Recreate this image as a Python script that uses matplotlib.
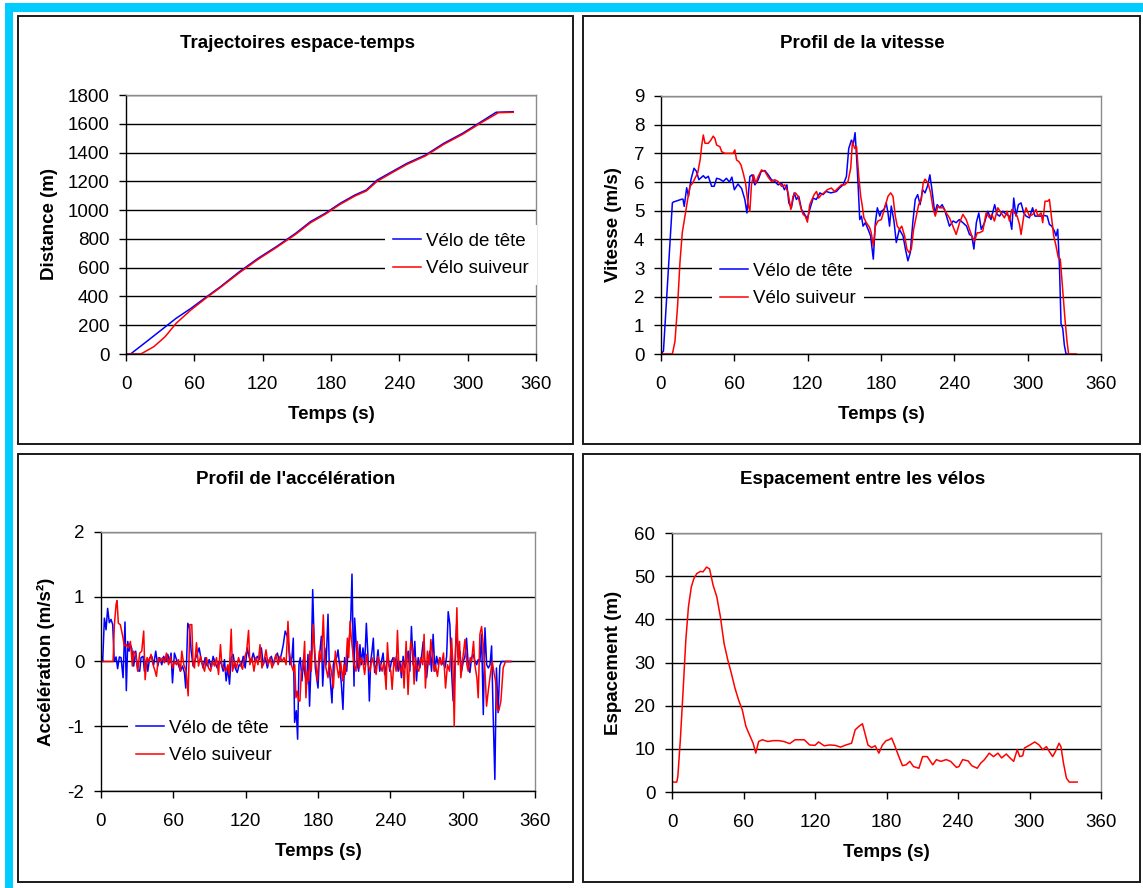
import matplotlib
matplotlib.use("Agg")
import matplotlib.pyplot as plt
from matplotlib.patches import Rectangle

plt.rcParams['font.family'] = ['Liberation Sans', 'DejaVu Sans']
plt.rcParams['axes.unicode_minus'] = False

BLUE = '#0000FF'
RED = '#FF0000'
LABEL_HEAD = 'Vélo de tête'
LABEL_FOLLOW = 'Vélo suiveur'

# ---- space-time trajectories (s, m)
dist_t_head = [0, 4, 18, 31, 44, 57, 65, 83, 99.6, 116, 132, 149, 162, 175, 188, 201, 211,
               220.5, 233.6, 246.7, 263, 279, 295.6, 312, 325, 340]
dist_head = [0, 0, 86, 167, 248, 317, 364, 468, 572, 665, 746, 839, 920, 978, 1047, 1105, 1140,
             1209, 1267, 1325, 1383, 1464, 1534, 1615, 1680, 1684]
dist_t_follow = [0, 13, 24.5, 34.3, 44, 57, 70, 83, 99.6, 116, 132, 149, 162, 175, 188, 201, 211,
                 220.5, 233.6, 246.7, 263, 279, 295.6, 312, 327, 340]
dist_follow = [0, 0, 51, 120, 213, 306, 387, 463, 565, 658, 740, 832, 912, 972, 1040, 1098, 1133,
               1200, 1260, 1318, 1377, 1457, 1527, 1608, 1677, 1680]

# ---- speed profile (s, m/s)
speed_t_head = [0, 2, 9.3, 10, 17, 18, 19, 21, 22.5, 24.5, 27, 29, 31, 34.6, 36.5, 38.7, 41.4, 43.5,
                45.5, 48, 51, 53.5, 56, 58, 60, 63, 66, 68.6, 70.3, 72.7, 74.6, 76.8, 79.5, 82, 85,
                87.7, 90.4, 93, 95.8, 98.6, 101, 103, 104.6, 106.7, 109, 110.8, 112.7, 115, 117.6,
                119.8, 121.7, 124.5, 127, 130, 132.6, 135, 139, 143.5, 146, 149, 151.7, 153.6, 155.8,
                157.4, 158.8, 160, 161.2, 162.6, 164, 165.3, 167.2, 169.4, 171.5, 173.7, 175.4, 177,
                179, 180.3, 182.4, 184.3, 185.7, 187, 188.4, 190.6, 192.5, 195, 198, 200, 202, 204,
                206, 208, 210, 212, 214, 216, 218, 220, 221.7, 224, 226, 228, 230, 232, 234, 236,
                239, 241.5, 244, 247, 250, 252.4, 254.3, 256, 258, 260, 262, 264.7, 267.4, 270, 273,
                275, 277, 279.6, 282.4, 285, 287, 288.6, 290.5, 292.4, 294.6, 296.8, 298.7, 301.4,
                304, 306, 308, 311, 313.7, 316, 317.8, 319.7, 321.9, 323.2, 324.6, 326, 327.3, 328.7,
                330, 331.4, 334]
speed_head = [0, 0.1, 5.27, 5.3, 5.4, 5.4, 5.15, 5.8, 5.5, 6.08, 6.48, 6.37, 6.08, 6.22, 6.13, 6.2,
              5.85, 5.85, 6.13, 6.1, 6.02, 6.13, 6.0, 6.17, 5.73, 5.93, 5.77, 5.39, 4.92, 6.19, 6.25,
              5.9, 6.08, 6.37, 6.4, 6.25, 6.08, 6.02, 5.9, 5.96, 5.73, 5.9, 5.27, 5.1, 5.62, 5.39,
              5.5, 5.04, 4.87, 4.72, 5.04, 5.44, 5.39, 5.62, 5.56, 5.67, 5.62, 5.67, 5.79, 5.9, 6.19,
              7.17, 7.46, 7.35, 7.72, 6.89, 5.96, 4.69, 4.81, 4.46, 4.58, 4.35, 4.12, 3.31, 4.58,
              5.1, 4.81, 4.98, 5.04, 5.27, 4.92, 4.46, 5.16, 4.64, 3.89, 4.35, 4.12, 3.66, 3.25,
              3.54, 4.58, 5.39, 5.56, 5.21, 5.73, 5.62, 5.85, 6.25, 5.73, 4.92, 5.21, 5.1, 5.21,
              5.04, 4.75, 4.46, 4.64, 4.58, 4.69, 4.58, 4.46, 4.17, 4.12, 3.66, 4.58, 4.92, 4.35,
              4.58, 4.98, 4.69, 5.21, 4.87, 4.81, 4.98, 4.87, 4.81, 4.35, 5.44, 4.81, 5.21, 5.27,
              4.92, 4.81, 4.75, 5.1, 4.81, 4.81, 4.81, 4.83, 4.81, 4.52, 4.46, 4.29, 4.12, 4.35,
              3.08, 1.06, 0.89, 0.31, 0, 0]
speed_t_follow = [0, 9.3, 11.4, 13.6, 15.5, 17.4, 19.6, 21.8, 23.7, 25.9, 27.8, 30, 32, 33.2, 34.6,
                  36, 38.7, 40.8, 42.7, 44.1, 45.5, 48.2, 49.6, 52.3, 55, 59, 60.4, 61.8, 63.7, 65.4,
                  67.3, 69.2, 71.3, 72.7, 74, 75.7, 77.6, 79.5, 82.2, 85, 87.7, 90.4, 93, 95.8, 98.6,
                  101.3, 104, 106.2, 108, 110, 112.2, 114.4, 116.3, 118, 119.8, 121.7, 123.6, 125.3,
                  127.2, 129, 131.2, 133.4, 136, 139.4, 142, 144.9, 147.6, 150.3, 153, 155.2, 156.6,
                  158.5, 160, 161.8, 163.4, 164.7, 166, 168, 170.7, 172, 173.7, 175.4, 177.5, 180.3,
                  183, 185.7, 187.9, 189.8, 191.7, 193.3, 195.2, 197, 199.3, 201.2, 202.9, 204.8,
                  206.7, 208.9, 210.8, 213, 214.5, 216, 218.5, 220.6, 222.5, 224.4, 226.6, 228.7,
                  231, 233.4, 236, 238.8, 241.5, 244.3, 247, 249.7, 252.4, 254.3, 256.5, 258.7,
                  260.6, 263.3, 266, 268.8, 270.7, 272.8, 275.6, 278.3, 281, 283.2, 285.1, 287,
                  289.2, 291.4, 293.3, 294.6, 296.8, 298.7, 301.4, 304.2, 306.9, 308.3, 311, 312.3,
                  314.2, 316.4, 317.8, 319.7, 321.3, 323.2, 325, 326.7, 328.6, 330.5, 332.2, 333.5,
                  339.6]
speed_follow = [0, 0, 0.43, 1.7, 3.19, 4.23, 4.81, 5.39, 5.85, 5.96, 6.13, 6.31, 6.77, 7.23, 7.64,
                7.35, 7.35, 7.46, 7.6, 7.52, 7.29, 7.23, 7.06, 7.0, 7.0, 7.0, 7.12, 6.77, 6.71, 6.6,
                6.31, 5.96, 5.21, 4.98, 5.9, 6.25, 5.96, 6.19, 6.42, 6.37, 6.17, 6.02, 6.08, 6.02,
                5.85, 5.9, 5.62, 5.04, 5.5, 5.62, 5.5, 5.1, 4.87, 4.81, 4.6, 5.21, 5.39, 5.56, 5.67,
                5.44, 5.56, 5.62, 5.73, 5.79, 5.67, 5.79, 5.9, 5.9, 6.02, 6.48, 7.4, 7.17, 7.23,
                6.19, 5.5, 5.16, 4.75, 4.58, 4.41, 4.23, 3.77, 4.46, 4.64, 4.69, 5.1, 5.5, 5.62,
                5.5, 4.81, 4.46, 4.35, 4.46, 4.12, 3.66, 3.54, 3.66, 4.35, 4.81, 5.21, 5.39, 5.96,
                6.1, 5.96, 5.62, 5.1, 4.81, 5.16, 5.1, 5.1, 4.92, 4.75, 4.46, 4.17, 4.58, 4.87,
                4.69, 4.35, 4.12, 3.94, 4.23, 4.23, 4.29, 4.92, 4.75, 4.87, 4.64, 5.1, 4.92, 4.75,
                4.98, 4.64, 5.04, 4.92, 4.81, 4.52, 4.17, 4.81, 5.1, 4.81, 4.87, 5.04, 4.81, 4.92,
                4.58, 5.33, 5.33, 5.39, 4.69, 4.12, 3.77, 3.37, 3.31, 2.27, 1.23, 0.43, 0, 0]

# ---- acceleration profile (s, m/s2)
acc_t_head = [0, 0.5, 1.4, 2.8, 4.2, 5.5, 6.9, 8.3, 9.7, 11, 12.5, 13.8, 15.2, 16.6, 18.3, 19.9, 21,
              22.2, 23.3, 24.4, 25.5, 27.1, 28.8, 30.5, 32.1, 33.2, 34.9, 36, 37.7, 38.8, 40.4, 42.1,
              43.7, 45.4, 47.1, 48.7, 50.4, 52, 53.7, 55.4, 57, 58.1, 59.3, 60.9, 62.6, 64.2, 65.9,
              67.6, 69.2, 70.3, 72, 73.4, 74.8, 76.4, 78.1, 79.7, 81.4, 83.1, 84.7, 86.4, 88.1, 89.7,
              91.4, 93, 94.7, 96.4, 98, 99.7, 101.3, 102.4, 103.8, 105.2, 106.6, 108, 109.6, 111.3,
              113, 114.6, 116.3, 118, 119.6, 121.3, 123, 124.6, 126.3, 128, 129.6, 131.3, 133, 134.6,
              136.3, 138, 139.6, 141.3, 143, 144.6, 146.3, 148, 149.6, 151.2, 152.8, 154.5, 155.6,
              156.7, 158.4, 159.5, 160.6, 162, 163.1, 164.2, 165.3, 166.7, 167.8, 168.9, 170.6,
              171.7, 173, 174.5, 175.6, 176.7, 177.8, 178.9, 180, 181.1, 182.8, 183.9, 185.6, 186.7,
              188.3, 189.4, 190.5, 191.6, 192.7, 193.8, 195.5, 196.6, 198.3, 199.4, 200.7, 202.1,
              203.8, 204.9, 206.3, 207.1, 208.2, 209, 209.9, 210.4, 211.5, 212.6, 213.7, 214.8,
              215.9, 217.3, 218.7, 220.1, 221.5, 222.6, 223.7, 224.8, 225.9, 227, 228.4, 229.8,
              231.2, 232.6, 234, 235.3, 236.7, 238.1, 239.5, 240.9, 242.3, 243.7, 245.1, 246.5,
              247.9, 249.2, 250.6, 252, 253.4, 254.8, 256.2, 257.5, 258.9, 260.3, 261.7, 263.1,
              264.5, 265.9, 267.3, 268.7, 270.1, 271.4, 272.8, 274.2, 275.5, 277, 278.4, 279.8,
              281.1, 282.5, 283.9, 285.3, 286.7, 288, 289.4, 290.8, 292.1, 293.6, 295, 296.3, 297.7,
              299.1, 300.5, 301.9, 303.2, 304.6, 306, 307.4, 308.8, 310.2, 311.6, 312.9, 314.3,
              315.7, 317.1, 318.5, 319.9, 321.3, 322.7, 324, 325.3, 326.7, 328, 329.4, 330.8, 332.2,
              333.6, 340.6]
acc_head = [0, 0.08, 0, 0.67, 0.49, 0.82, 0.6, 0.65, 0.57, 0, 0.07, -0.11, 0.07, 0.06, -0.25, 0.61,
            -0.45, 0.31, 0.16, 0.26, 0.2, -0.07, 0.16, -0.14, -0.15, 0.06, 0.08, -0.15, 0.03, -0.15,
            0.06, 0.08, -0.05, 0.16, -0.07, 0.06, -0.05, 0.08, 0, 0.11, -0.02, 0.13, -0.33, 0.13,
            0.03, -0.05, -0.15, -0.07, -0.17, -0.41, 0.59, 0.52, 0.16, -0.07, 0.03, 0.11, 0.21,
            0.03, -0.1, 0.06, -0.07, 0.03, -0.1, 0.08, -0.02, -0.1, 0, -0.03, -0.15, 0.03, -0.3,
            -0.1, -0.35, 0.06, 0.11, -0.1, -0.17, -0.05, -0.07, 0.08, -0.1, 0.21, 0.06, 0, 0.13, 0,
            0.08, 0.03, 0.21, -0.05, 0.06, -0.1, 0.03, 0.08, -0.05, 0.06, 0.13, 0, 0.11, 0.26,
            0.47, 0.39, 0.26, -0.05, 0.06, 0.36, -0.94, -0.76, -1.2, -0.05, 0.06, -0.3, 0.03,
            -0.17, -0.35, 0.11, -0.69, 0.11, 1.11, 0.36, -0.1, -0.25, -0.41, 0.06, 0.39, -0.38,
            0.21, -0.05, 0.73, -0.1, -0.38, -0.64, -0.05, 0.03, 0.06, 0.18, -0.15, -0.35, -0.74,
            0.06, -0.15, 0.16, 0.42, 0.62, 1.35, 0.42, -0.38, 0.67, 0.31, -0.05, -0.15, 0.26,
            -0.05, 0.21, -0.05, 0.59, 0.06, -0.61, 0, 0.16, 0.36, -0.17, -0.05, 0.18, -0.15, 0,
            0.13, -0.2, -0.05, 0.08, -0.15, 0, 0.06, -0.05, 0.08, -0.15, 0, -0.25, 0.08, -0.1, 0,
            0.16, -0.15, 0.54, -0.05, 0.31, -0.3, 0.06, -0.1, 0.08, 0.31, -0.05, -0.25, 0, 0.16,
            -0.15, 0.42, -0.15, 0.08, -0.05, 0.06, -0.05, 0, -0.1, 0.08, 0.77, 0.57, -0.15, -0.61,
            -0.05, 0.57, 0.06, 0.16, -0.15, 0, 0.08, 0.36, -0.05, -0.17, 0.06, 0.11, 0, -0.05,
            0.03, 0, 0.42, -0.82, 0.52, -0.05, -0.1, -0.05, 0.24, -0.82, -1.82, -0.1, -0.79,
            -0.07, 0, 0, 0]
acc_t_follow = [0, 10, 11.1, 12.5, 13.3, 14.4, 16, 17.7, 19.4, 21, 22.7, 24.4, 26, 27.1, 28.8, 30.5,
                32.1, 33.8, 35.4, 36.6, 38.2, 39.9, 41.5, 43.2, 44.9, 46, 47.6, 49.3, 51, 52.6, 54.3,
                56, 57.6, 59.3, 60.9, 62.6, 64.2, 65.9, 67, 68.7, 70.6, 72.3, 73.7, 75.3, 76.4, 77.5,
                79.2, 80.9, 82.5, 84.2, 85.9, 87.5, 89.2, 90.9, 92.5, 94.2, 95.8, 97.5, 99.1, 100.2,
                101.9, 103.6, 105.2, 106.3, 108, 109.1, 110.8, 112.4, 114.1, 115.8, 117.4, 119.1,
                120.8, 122.4, 123.5, 125.2, 126.9, 128.5, 130.2, 131.9, 133.5, 135.2, 136.9, 138.5,
                140.2, 141.9, 143.5, 145.2, 146.9, 148.5, 150.2, 151.8, 153.5, 155.1, 156.2, 157.9,
                159.6, 160.7, 161.7, 162.8, 163.9, 165, 166.1, 167.8, 168.9, 170, 171.1, 172.2,
                173.3, 174.4, 176.1, 177.2, 178.3, 179.4, 181.1, 182.8, 184.4, 185.5, 186.6, 188.3,
                189.4, 191.1, 192.7, 194.4, 195.5, 197.2, 198.8, 200.5, 201.6, 202.7, 204.4, 205.5,
                206.6, 207.7, 208.8, 209.9, 211.5, 212.6, 214.3, 215.9, 217.6, 218.7, 220.4, 221.5,
                223.2, 224.8, 226.5, 228.2, 229.8, 231.5, 233.2, 234.8, 236.5, 237.6, 238.7, 240.4,
                241.5, 243.1, 244.8, 245.9, 247, 248.7, 250.3, 251.4, 253.1, 254.7, 255.8, 256.9,
                258.6, 259.7, 260.8, 261.9, 263.6, 265.2, 266.9, 268, 269.1, 270.8, 272.5, 273.6,
                275.2, 276.3, 277.4, 279.1, 280.8, 282.4, 284.1, 285.8, 287.4, 289.1, 290.8, 291.9,
                293, 294.1, 295.2, 296.3, 297.4, 298.5, 300.2, 301.9, 303.5, 304.6, 306.3, 307.4,
                309, 310.1, 311.8, 312.9, 314.3, 315.7, 317.1, 318.5, 319.8, 321.2, 322.6, 324.5,
                326.2, 327.3, 328.7, 330, 331.7, 333.6, 335.5, 340]
acc_follow = [0, 0, 0.57, 0.88, 0.94, 0.59, 0.57, 0.42, 0.24, 0.26, 0.21, 0.31, -0.07, 0.16, 0.11,
              -0.15, 0.13, 0.16, 0.47, -0.28, 0.06, 0, 0.11, -0.05, -0.15, -0.23, 0.06, 0, 0.06,
              -0.02, 0.13, -0.05, 0.08, -0.1, 0, -0.05, 0.03, -0.15, 0.16, -0.05, -0.15, -0.53,
              0.57, 0.57, -0.05, -0.1, 0.29, -0.07, 0.08, -0.05, -0.15, 0.06, -0.1, -0.15, 0,
              -0.07, 0.06, -0.2, 0.26, -0.05, -0.1, -0.15, -0.05, -0.2, 0.5, -0.15, 0, -0.1, 0.06,
              -0.05, -0.12, 0.06, 0.16, 0.48, -0.05, 0.06, -0.15, 0.06, -0.05, 0.26, -0.1, 0, 0.18,
              -0.05, 0.06, -0.1, 0, 0.11, -0.05, 0.08, 0, 0.06, -0.05, 0.62, 0.16, -0.05, -0.15,
              -0.05, -0.56, -0.46, -0.61, -0.61, -0.2, -0.05, 0.31, -0.56, -0.15, -0.3, 0.16,
              -0.15, 0.57, 0.16, -0.05, -0.3, 0.16, 0, 0.72, 0.08, -0.1, -0.25, 0, -0.15, -0.41,
              0.16, -0.05, -0.25, 0, -0.3, -0.05, -0.2, 0.36, 0.06, 0.62, 0.34, 0.16, -0.05, -0.15,
              0.31, -0.1, 0.06, -0.05, -0.2, 0.11, -0.05, -0.15, 0.06, -0.05, -0.2, 0.08, -0.05,
              -0.15, 0, -0.43, 0.29, -0.05, -0.15, -0.43, 0.06, -0.15, 0.48, -0.05, -0.17, 0,
              -0.41, 0.31, -0.51, -0.05, 0.31, 0.16, -0.35, 0.06, -0.1, -0.15, 0.06, -0.05, 0.42,
              -0.41, 0.16, -0.05, 0.34, 0.06, -0.15, -0.05, -0.23, 0.06, -0.05, 0.13, -0.41, -0.05,
              -0.15, 0.36, -0.05, -1.0, 0.16, 0.83, -0.05, 0.31, -0.25, 0.06, 0.34, -0.05, -0.15,
              0.06, 0, 0.31, -0.05, -0.25, -0.56, 0.42, 0.54, 0.26, -0.15, -0.69, -0.46, -0.25, 0,
              -0.2, -0.3, -0.74, -0.76, -0.61, -0.1, 0, 0]

# ---- spacing between the two bikes (s, m)
gap_t = [0, 4, 4.9, 7, 9.2, 11.6, 13.8, 16.2, 18.3, 20.8, 23.8, 26, 29, 31.5, 34.5, 37.6, 40.6, 43.7,
         46.8, 49.8, 52.9, 55.9, 59, 62, 65.1, 68.1, 70.3, 72.7, 75.8, 80.4, 85, 89.5, 94, 98.7,
         103.3, 111, 115.5, 120, 123, 127.7, 132.3, 137, 141.5, 146, 150.7, 153.7, 156.8, 159.8,
         162.3, 164.4, 167.5, 170.5, 173.6, 176.6, 179.7, 182.1, 184.3, 186.7, 189.8, 193.4, 196.5,
         199.6, 202.6, 207.2, 210.3, 214.2, 218.8, 221.9, 225.5, 230.1, 233.8, 238.7, 240.8, 243.9,
         248.5, 251.5, 256.1, 259.1, 262.2, 266.2, 269.8, 273.5, 276.6, 280.5, 283.6, 286.7, 289.7,
         291.8, 294.3, 295.8, 300.4, 304.4, 308, 311.1, 314.2, 316.6, 319.4, 321.8, 324.8, 326.4,
         328.5, 331, 333.4, 340]
gap = [2.3, 2.3, 3.6, 12.1, 22.9, 35.2, 42.9, 47.5, 49.4, 50.6, 51.1, 51, 52.1, 51.7, 47.9, 45.2,
       40.6, 34.4, 30.6, 27.5, 24, 21.3, 19, 15.2, 13.2, 11.3, 9, 11.7, 12.1, 11.7, 11.9, 11.9, 11.7,
       11.2, 12.1, 12.1, 10.9, 10.8, 11.6, 10.7, 10.9, 10.8, 10.4, 10.9, 11.3, 14.4, 15.2, 15.8,
       13.2, 10.9, 10.3, 10.7, 9, 10.9, 11.9, 12.1, 12.5, 10.9, 8.6, 6.1, 6.3, 7.1, 5.9, 5.5, 8.2,
       8.2, 6.3, 7.5, 7.1, 7.5, 7.1, 5.7, 5.9, 7.5, 7.2, 6.1, 5.5, 6.7, 7.5, 9, 8.2, 9, 7.9, 8.8,
       7.9, 7.1, 9.8, 8.2, 8.4, 10.2, 10.9, 11.6, 10.9, 9.8, 10.5, 9.4, 8.2, 9.4, 11.3, 10.5, 6.7,
       3.2, 2.3, 2.3]

x_ticks = [0, 60, 120, 180, 240, 300, 360]

W, H = 1143, 888
fig = plt.figure(figsize=(W / 100, H / 100), dpi=100)
FS = 13.5


def fx(px):
    return px / W


def fy(py):
    return 1 - py / H


# cyan page border (top and left)
fig.patches.append(Rectangle((fx(5), fy(12)), fx(W - 5), 9 / H, transform=fig.transFigure,
                             facecolor='#00CCFF', edgecolor='none', zorder=-3))
fig.patches.append(Rectangle((fx(5), 0), 8 / W, fy(3), transform=fig.transFigure,
                             facecolor='#00CCFF', edgecolor='none', zorder=-3))

# chart frames
for (x0, y0, x1, y1) in [(18, 16, 573, 444), (583, 16, 1140, 444),
                         (18, 454, 573, 882), (583, 454, 1140, 882)]:
    fig.patches.append(Rectangle((fx(x0), fy(y1)), (x1 - x0) / W, (y1 - y0) / H,
                                 transform=fig.transFigure, facecolor='white',
                                 edgecolor='#1a1a1a', linewidth=1.4, zorder=-2))


def make_axes(left, top, right, bottom, ylim, yticks, title, title_xy, ylabel, ylabel_x):
    ax = fig.add_axes([fx(left), fy(bottom), (right - left) / W, (bottom - top) / H])
    ax.set_xlim(0, 360)
    ax.set_ylim(*ylim)
    ax.set_xticks(x_ticks)
    ax.set_yticks(yticks)
    ax.set_facecolor('white')
    for s in ['top', 'right']:
        ax.spines[s].set_color('#8c8c8c')
        ax.spines[s].set_linewidth(1.0)
    for s in ['left', 'bottom']:
        ax.spines[s].set_color('black')
        ax.spines[s].set_linewidth(1.0)
    ax.tick_params(axis='both', direction='out', length=5, width=1.0, color='black',
                   labelsize=FS, labelcolor='black')
    ax.tick_params(axis='x', pad=11)
    ax.tick_params(axis='y', pad=7)
    ax.yaxis.grid(True, color='black', linewidth=1.0)
    ax.set_axisbelow(True)
    fig.text(fx(title_xy[0]), fy(title_xy[1]), title, ha='center', va='center',
             fontsize=FS, fontweight='bold')
    fig.text(fx((left + right) / 2), fy(bottom + 60), 'Temps (s)', ha='center', va='center',
             fontsize=FS, fontweight='bold')
    fig.text(fx(ylabel_x), fy((top + bottom) / 2), ylabel, ha='center', va='center',
             rotation=90, fontsize=FS, fontweight='bold')
    return ax


def add_legend(ax, x_left, y_mid):
    leg = ax.legend(loc='center left', bbox_to_anchor=(fx(x_left), fy(y_mid)),
                    bbox_transform=fig.transFigure, fontsize=FS, frameon=True,
                    fancybox=False, borderpad=0.4, borderaxespad=0.0,
                    handlelength=1.5, handletextpad=0.3, labelspacing=0.56)
    leg.get_frame().set_facecolor('white')
    leg.get_frame().set_edgecolor('none')
    leg.get_frame().set_alpha(1.0)
    return leg


LW = 1.1

# Panel 1: trajectories
ax1 = make_axes(126, 95, 536, 354, (0, 1800), range(0, 1801, 200),
                'Trajectoires espace-temps', (297, 43), 'Distance (m)', 49)
ax1.plot(dist_t_head, dist_head, color=BLUE, lw=LW, label=LABEL_HEAD)
ax1.plot(dist_t_follow, dist_follow, color=RED, lw=LW, label=LABEL_FOLLOW)
add_legend(ax1, 385, 255)

# Panel 2: speed
ax2 = make_axes(661, 96, 1101, 354, (0, 9), range(0, 10),
                'Profil de la vitesse', (862, 43), 'Vitesse (m/s)', 614)
ax2.plot(speed_t_head, speed_head, color=BLUE, lw=LW, label=LABEL_HEAD)
ax2.plot(speed_t_follow, speed_follow, color=RED, lw=LW, label=LABEL_FOLLOW)
add_legend(ax2, 712, 285)

# Panel 3: acceleration
ax3 = make_axes(101, 532, 535, 791, (-2, 2), range(-2, 3),
                "Profil de l'accélération", (296, 479), 'Accélération (m/s²)', 46)
ax3.plot(acc_t_head, acc_head, color=BLUE, lw=LW, label=LABEL_HEAD)
ax3.plot(acc_t_follow, acc_follow, color=RED, lw=LW, label=LABEL_FOLLOW)
add_legend(ax3, 128, 742)

# Panel 4: spacing
ax4 = make_axes(672, 533, 1101, 792, (0, 60), range(0, 61, 10),
                'Espacement entre les vélos', (863, 479), 'Espacement (m)', 614)
ax4.plot(gap_t, gap, color=RED, lw=LW)

fig.savefig('out.png', dpi=100, facecolor='white')
